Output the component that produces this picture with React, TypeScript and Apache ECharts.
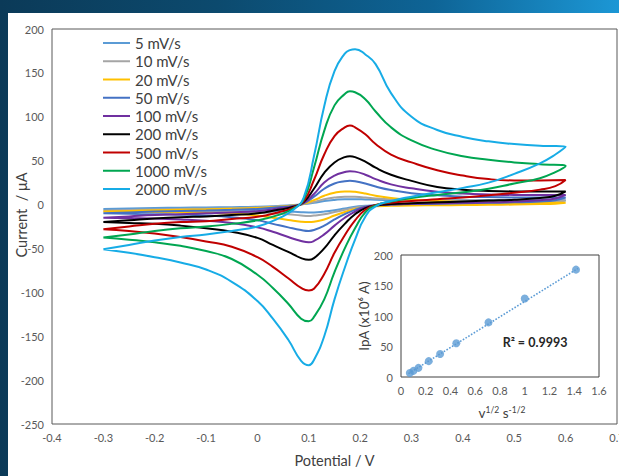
import React, { useEffect, useRef } from 'react';
import * as echarts from 'echarts';

const FONT = 'Lato, "Open Sans", sans-serif';

const SCAN_RATES = ['5 mV/s', '10 mV/s', '20 mV/s', '50 mV/s', '100 mV/s', '200 mV/s', '500 mV/s', '1000 mV/s', '2000 mV/s'];
const COLORS = ['#5B9BD5', '#A5A5A5', '#FFC000', '#4472C4', '#7030A0', '#000000', '#C00000', '#00A651', '#17ACE6'];

// Potential grids (V): forward (anodic) sweep and reverse (cathodic) sweep
const E_FWD = [-0.3, -0.25, -0.2, -0.15, -0.1, -0.05, 0, 0.04, 0.07, 0.09, 0.11, 0.13, 0.15, 0.17, 0.18, 0.19, 0.21, 0.23, 0.26, 0.3, 0.35, 0.4, 0.45, 0.5, 0.55, 0.6];
const E_REV = [0.6, 0.58, 0.55, 0.5, 0.45, 0.4, 0.35, 0.3, 0.26, 0.23, 0.21, 0.19, 0.17, 0.15, 0.13, 0.11, 0.1, 0.085, 0.06, 0.03, 0, -0.05, -0.1, -0.15, -0.2, -0.25, -0.3];

// Current (µA) on the forward sweep
const FWD_5 = [-5, -4.5, -4, -3.6, -3.3, -3, -2.5, -1.6, -0.6, 0.5, 2, 4, 5.3, 6, 6, 6, 5.8, 5.5, 5.2, 5, 5, 5, 5, 5, 5, 5];
const FWD_10 = [-7, -6.3, -5.6, -5.1, -4.7, -4.1, -3.4, -2.2, -1, 0.5, 3, 6, 8, 9, 9, 8.8, 8, 7, 6, 5.2, 4.8, 4.6, 4.5, 4.5, 4.5, 4.5];
const FWD_20 = [-8, -7.2, -6.4, -5.8, -5.4, -4.7, -3.9, -2.5, -1, 1, 5, 10, 13.5, 15, 15, 14.5, 12.5, 10, 7.5, 5.5, 4, 3, 2.5, 2, 2, 2];
const FWD_50 = [-10, -9, -8, -7.3, -6.7, -6, -5, -3, -1.5, 1.5, 9, 18, 24, 26.5, 27, 26.5, 24, 20.5, 16.5, 13, 10.5, 9, 8.5, 8, 8, 8];
const FWD_100 = [-15, -13.5, -12, -11, -10, -9, -7.5, -4.5, -2, 2, 12, 25, 33, 37, 38, 37.5, 34, 29, 23, 18.5, 14.5, 12.5, 11.5, 11, 11, 11];
const FWD_200 = [-20, -18, -16, -14.5, -13.5, -12, -10, -6, -2.5, 3, 18, 36, 48, 54, 55, 54, 49, 42, 34, 27, 20, 17, 15.5, 15, 15, 15];
const FWD_500 = [-28, -25, -22, -20, -19, -16.5, -14, -9, -3.5, 4, 28, 57, 78, 88, 90, 88, 80, 69, 57, 48, 39, 33, 29, 27.5, 27.5, 28];
const FWD_1000 = [-37.5, -34, -30, -27, -25, -22, -18, -12, -4.5, 6, 42, 84, 113, 126, 129, 128, 120, 106, 88, 73, 62, 55, 51, 48, 46, 44];
const FWD_2000 = [-51, -46, -41, -37, -34, -30, -25, -16, -6, 8, 55, 112, 152, 172, 176, 177, 171, 160, 127, 100, 85, 77, 72, 69, 67, 66];

// Current (µA) on the reverse sweep
const REV_5 = [5, 3.5, 2.5, 1.5, 1, 0.6, 0.3, 0, -0.3, -0.8, -1.5, -2.5, -4.5, -6.5, -8, -9, -9, -8.7, -7.8, -7, -6.3, -5.8, -5.5, -5.3, -5.2, -5.1, -5];
const REV_10 = [4.5, 3, 2, 1.2, 0.8, 0.5, 0.2, 0, -0.5, -1, -2, -3.5, -6, -8.5, -11, -12.5, -13, -12.5, -11, -9.8, -8.8, -8, -7.5, -7.3, -7.1, -7, -7];
const REV_20 = [2, 1, 0.5, 0, -0.3, -0.5, -0.8, -1, -1.5, -2, -3, -5, -8.5, -12.5, -17, -19.5, -20, -19.5, -17.5, -15, -12.5, -10.5, -9.5, -9, -8.5, -8.2, -8];
const REV_50 = [8, 5, 3.5, 2.5, 2, 1.5, 1, 0.5, 0, -1, -2.5, -6, -11, -17, -24, -29, -30, -29, -26, -22, -18, -14.5, -12.5, -11.5, -11, -10.5, -10];
const REV_100 = [11, 7, 5, 3.5, 2.5, 2, 1.5, 1, 0, -1, -3, -8, -15, -24, -34, -41.5, -43, -41.5, -37, -31, -26, -21, -18.5, -17, -16, -15.5, -15];
const REV_200 = [15, 10, 7.5, 5.5, 4.5, 3.5, 2.5, 1.5, 0.5, -1, -4, -11, -22, -35, -50, -61, -63, -61, -54, -46, -38, -31, -27, -24, -22, -21, -20];
const REV_500 = [28, 21, 17, 13.5, 10.5, 8, 6, 4, 2, -0.5, -6, -18, -35, -55, -79, -96, -98, -95, -84, -71, -60, -48, -42, -37, -33, -30, -28];
const REV_1000 = [44, 37, 30, 24, 18, 14, 11, 7.5, 3.5, -1, -9, -27, -50, -77, -108, -128, -133, -130, -113, -95, -80, -62, -53, -47, -43, -40, -37.5];
const REV_2000 = [66, 57, 47, 35, 25, 19, 14, 9, 4, -2, -14, -40, -72, -108, -150, -177, -183, -178, -154, -130, -110, -88, -74, -66, -60, -55, -51];

const FWD = [FWD_5, FWD_10, FWD_20, FWD_50, FWD_100, FWD_200, FWD_500, FWD_1000, FWD_2000];
const REV = [REV_5, REV_10, REV_20, REV_50, REV_100, REV_200, REV_500, REV_1000, REV_2000];

// Inset: anodic peak current vs square root of scan rate
const SQRT_V = [0.071, 0.1, 0.141, 0.224, 0.316, 0.447, 0.707, 1.0, 1.414];
const IPA = [6.6, 10, 15, 26, 37.6, 55.2, 89.5, 128.7, 176];
const TREND_X = [0.06, 1.43];
const TREND_Y = [5.6, 178];

const TICK_COLOR = '#595959';

function loopData(f: number[], r: number[]) {
  const pts: number[][] = [];
  E_FWD.forEach((e, i) => pts.push([e, f[i]]));
  E_REV.forEach((e, i) => {
    if (i > 0) pts.push([e, r[i]]);
  });
  return pts;
}

export default function App() {
  const ref = useRef<HTMLDivElement>(null);

  useEffect(() => {
    if (!ref.current) return;
    const chart = echarts.init(ref.current, null, { renderer: 'svg' });

    const cvSeries = SCAN_RATES.map((name, k) => ({
      name,
      type: 'line',
      xAxisIndex: 0,
      yAxisIndex: 0,
      data: loopData(FWD[k], REV[k]),
      smooth: 0.5,
      symbol: 'none',
      lineStyle: { color: COLORS[k], width: 2 },
      itemStyle: { color: COLORS[k] },
      z: 2 + k,
    }));

    const option: any = {
      animation: false,
      textStyle: { fontFamily: FONT },
      grid: [
        { left: 52, right: 2, top: 29, bottom: 52, show: true, borderColor: '#595959', borderWidth: 1, backgroundColor: 'transparent', containLabel: false, outerBoundsMode: 'none' },
        { left: 401, right: 20, top: 255, bottom: 99, show: true, borderColor: '#404040', borderWidth: 1, backgroundColor: 'transparent', containLabel: false, outerBoundsMode: 'none' },
      ],
      xAxis: [
        {
          type: 'value', gridIndex: 0, min: -0.4, max: 0.7, interval: 0.1,
          axisLine: { show: false }, axisTick: { show: false }, splitLine: { show: false },
          axisLabel: { color: TICK_COLOR, fontSize: 11, fontFamily: FONT, margin: 8 },
          name: 'Potential / V', nameLocation: 'middle', nameGap: 29,
          nameTextStyle: { color: '#404040', fontSize: 14.5, fontFamily: FONT },
        },
        {
          type: 'value', gridIndex: 1, min: 0, max: 1.6, interval: 0.2,
          axisLine: { show: false }, axisTick: { show: false }, splitLine: { show: false },
          axisLabel: { color: TICK_COLOR, fontSize: 11, fontFamily: FONT, margin: 8 },
        },
      ],
      yAxis: [
        {
          type: 'value', gridIndex: 0, min: -250, max: 200, interval: 50,
          axisLine: { show: false }, axisTick: { show: false }, splitLine: { show: false },
          axisLabel: { color: TICK_COLOR, fontSize: 11, fontFamily: FONT, margin: 8 },
        },
        {
          type: 'value', gridIndex: 1, min: 0, max: 200, interval: 50,
          axisLine: { show: false }, axisTick: { show: false }, splitLine: { show: false },
          axisLabel: { color: TICK_COLOR, fontSize: 11, fontFamily: FONT, margin: 8 },
        },
      ],
      legend: {
        data: SCAN_RATES,
        orient: 'vertical',
        left: 102,
        top: 34,
        itemWidth: 27,
        itemHeight: 18,
        itemGap: 0.25,
        padding: 0,
        itemStyle: { opacity: 0 },
        textStyle: { color: '#404040', fontSize: 15, fontFamily: FONT, lineHeight: 18 },
      },
      graphic: [
        {
          type: 'text', x: 21, y: 215, rotation: Math.PI / 2,
          style: { text: 'Current  / \u03bcA', fill: '#404040', fontSize: 14.5, fontFamily: FONT, align: 'center', verticalAlign: 'middle' },
        },
        {
          type: 'text', x: 364, y: 316, rotation: Math.PI / 2,
          style: { text: 'IpA (x10\u2076 A)', fill: '#404040', fontSize: 13.5, fontFamily: FONT, align: 'center', verticalAlign: 'middle' },
        },
        {
          type: 'text', x: 502, y: 413,
          style: {
            text: '{a|v}{b|1/2}{a| s}{b|-1/2}',
            align: 'center', verticalAlign: 'middle',
            rich: {
              a: { fontSize: 13.5, fontFamily: FONT, fill: '#404040', lineHeight: 16 },
              b: { fontSize: 8.5, fontFamily: FONT, fill: '#404040', lineHeight: 9, verticalAlign: 'top' },
            },
          },
        },
        {
          type: 'text', x: 535, y: 342,
          style: { text: 'R\u00b2 = 0.9993', fill: '#262626', fontSize: 12.5, fontWeight: 'bold', fontFamily: FONT, align: 'center', verticalAlign: 'middle' },
        },
      ],
      series: [
        ...cvSeries,
        {
          name: 'trend',
          type: 'line',
          xAxisIndex: 1,
          yAxisIndex: 1,
          data: TREND_X.map((x, i) => [x, TREND_Y[i]]),
          symbol: 'none',
          lineStyle: { color: '#5B9BD5', width: 1.6, type: 'dotted' },
          z: 20,
        },
        {
          name: 'ipa',
          type: 'scatter',
          xAxisIndex: 1,
          yAxisIndex: 1,
          data: SQRT_V.map((x, i) => [x, IPA[i]]),
          symbol: 'circle',
          symbolSize: 8,
          itemStyle: { color: '#5B9BD5' },
          z: 21,
        },
      ],
    };

    chart.setOption(option);
    return () => chart.dispose();
  }, []);

  return (
    <div
      style={{
        position: 'fixed', left: 0, top: 0, width: 619, height: 476, overflow: 'hidden',
        background: 'linear-gradient(90deg, #0b3a58 0%, #0c4a6e 35%, #0e6496 70%, #1c97d5 100%)',
      }}
    >
      <div style={{ position: 'absolute', left: 8, top: 13, right: 0, bottom: 0, background: '#ffffff' }} />
      <div ref={ref} style={{ position: 'absolute', left: 0, top: 0, width: 619, height: 476 }} />
    </div>
  );
}
